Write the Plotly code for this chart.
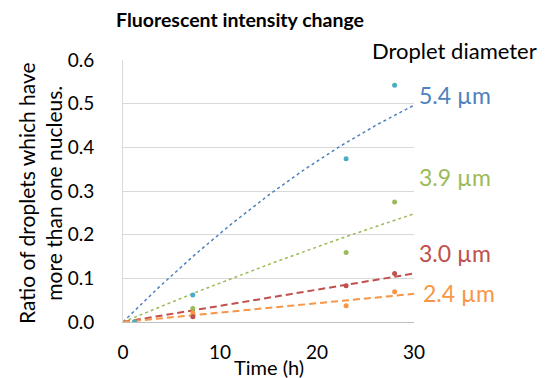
import numpy as np
import plotly.graph_objects as go

# ---- data ----
time_h = [1.2, 7.2, 23.0, 28.0]
series_names = ["5.4 µm", "3.9 µm", "3.0 µm", "2.4 µm"]
ratio_54 = [0.0, 0.062, 0.374, 0.542]
ratio_39 = [0.0, 0.031, 0.159, 0.275]
ratio_30 = [0.0, 0.012, 0.083, 0.111]
ratio_24 = [0.0, 0.021, 0.037, 0.069]
# trendline coefficients (y = a*x + b*x^2), as shown in the chart
trend_a = [0.02218, 0.0093, 0.0037, 0.00215]
trend_b = [-0.000188, -0.0000346, 0.0, 0.0]
x_ticks = [0, 10, 20, 30]
y_ticks = [0.0, 0.1, 0.2, 0.3, 0.4, 0.5, 0.6]

ratios = [ratio_54, ratio_39, ratio_30, ratio_24]
marker_colors = ["#4BACC6", "#9BBB59", "#C0504D", "#F79646"]
trend_colors = ["#4F81BD", "#9BBB59", "#C0504D", "#F79646"]
label_colors = ["#4F81BD", "#9BBB59", "#C0504D", "#F79646"]
dashes = ["3px,3px", "3px,3px", "7px,4px", "7px,4px"]
widths = [1.5, 1.5, 2, 2]
label_y = [0.519, 0.332, 0.158, 0.066]
label_dx = [3, 3, 3, 7]

FONT = "Lato"
# page body has an 8px margin: size the figure so the plot lands where the reference has it
W, H = 541, 370
fig = go.Figure()
xs = np.linspace(0, 30, 121)
for i in range(4):
    ys = trend_a[i] * xs + trend_b[i] * xs ** 2
    fig.add_trace(go.Scatter(x=xs, y=ys, mode="lines",
                             line=dict(color=trend_colors[i], width=widths[i], dash=dashes[i]),
                             hoverinfo="skip", showlegend=False))
for i in reversed(range(4)):
    fig.add_trace(go.Scatter(x=time_h, y=ratios[i], mode="markers", name=series_names[i],
                             marker=dict(color=marker_colors[i], size=5), showlegend=False))

for i in range(4):
    fig.add_annotation(x=1.0, xref="paper", xanchor="left", xshift=label_dx[i],
                       y=label_y[i], yref="y", yanchor="middle",
                       text=series_names[i], showarrow=False,
                       font=dict(family=FONT, size=23, color=label_colors[i]))
fig.add_annotation(x=1.0, xref="paper", xanchor="left", xshift=-44,
                   y=1.0, yref="paper", yanchor="middle", yshift=10,
                   text="Droplet diameter", showarrow=False,
                   font=dict(family=FONT, size=22, color="#000000"))
fig.add_annotation(x=0, xref="paper", xanchor="center", xshift=-83,
                   y=0.5, yref="paper", yanchor="middle", yshift=-2, textangle=-90,
                   text="Ratio of droplets which have<br>more than one nucleus.",
                   showarrow=False,
                   font=dict(family=FONT, size=21, color="#000000"))
fig.add_annotation(x=0.5, xref="paper", xanchor="center", xshift=0,
                   y=0, yref="paper", yanchor="middle", yshift=-45,
                   text="Time (h)", showarrow=False,
                   font=dict(family=FONT, size=20, color="#000000"))

fig.update_layout(
    width=W, height=H,
    margin=dict(l=115, r=135, t=52, b=56),
    paper_bgcolor="white", plot_bgcolor="white",
    title=dict(text="<b>Fluorescent intensity change</b>", x=232 / W, xanchor="center",
               y=1 - 12 / H, yanchor="middle",
               font=dict(family=FONT, size=19.5, color="#000000")),
    font=dict(family=FONT, size=19, color="#000000"),
)
fig.update_xaxes(range=[0, 30], tickvals=x_ticks, showgrid=False,
                 showline=True, linecolor="#BFBFBF", linewidth=1,
                 ticks="", ticklabelstandoff=13, zeroline=False,
                 tickfont=dict(family=FONT, size=19, color="#000000"))
fig.update_yaxes(range=[0, 0.6], tickvals=y_ticks, tickformat=".1f",
                 showgrid=True, gridcolor="#D9D9D9", gridwidth=1,
                 showline=True, linecolor="#D9D9D9", linewidth=1,
                 ticks="", ticklabelstandoff=24, zeroline=False,
                 tickfont=dict(family=FONT, size=19, color="#000000"))
fig.write_html("out.html")
